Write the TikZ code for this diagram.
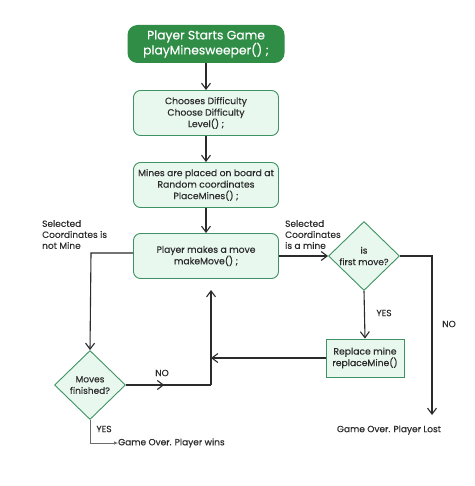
\documentclass[tikz,border=0pt]{standalone}
\usepackage{fontspec}
\setmainfont{Poppins}[FakeBold=0.25]
\usetikzlibrary{arrows.meta,shapes.geometric,decorations.markings}
\definecolor{gfgreen}{HTML}{2F8D46}
\definecolor{boxline}{HTML}{3E9263}
\definecolor{boxfill}{HTML}{E8F8EE}
\definecolor{ink}{HTML}{2B2B2B}

\begin{document}
\begin{tikzpicture}[x=1pt,y=-1pt,>={Straight Barb[length=6pt,width=9pt]},
    % Define the style for each kind of box
    start/.style={rectangle, rounded corners=10pt, fill=gfgreen, text=white, minimum width=157pt, minimum height=38pt, inner sep=2pt, font=\fontsize{12.3}{15}\selectfont, align=center},
    process/.style={rectangle, rounded corners=7pt, draw=boxline, fill=boxfill, line width=0.9pt, text=ink, minimum width=145pt, minimum height=45pt, inner sep=2pt, font=\fontsize{9.2}{11.5}\selectfont, align=center},
    plainbox/.style={process, rounded corners=0pt, minimum width=78pt, minimum height=38pt},
    decision/.style={diamond, draw=boxline, fill=boxfill, line width=0.9pt, text=ink, minimum width=71pt, minimum height=69pt, inner sep=0pt, font=\fontsize{9}{11.5}\selectfont, align=center},
    note/.style={text=ink, font=\fontsize{9}{11}\selectfont, align=left, inner sep=0pt},
    % Define the style for the connecting lines
    line/.style={draw=ink, line width=1.1pt},
    connection/.style={line, ->},
    midarrow/.style={line, postaction={decorate}, decoration={markings, mark=at position #1 with {\arrow{>}}}}
]

% Background and page size
\fill[white] (0,0) rectangle (474,486);
\useasboundingbox (0,0) rectangle (474,486);

% Main column
\node[start] (start) at (206,44) {Player Starts Game\\playMinesweeper() ;};
\node[process] (level) at (206,113) {Chooses Difficulty\\Choose Difficulty\\Level() ;};
\node[process] (mines) at (206,185) {Mines are placed on board at\\Random coordinates\\PlaceMines() ;};
\node[process] (move) at (206,256) {Player makes a move\\makeMove() ;};

% Decisions and the replace box
\node[decision] (first) at (364,256) {is\\first move?};
\node[decision] (finished) at (90,385) {Moves\\finished?};
\node[plainbox] (replace) at (365,358) {Replace mine\\replaceMine()};

% Free ends of connectors
\coordinate (join) at (211,385);
\coordinate (jointop) at (211,290);
\coordinate (notmine) at (91,253);
\coordinate (lostcorner) at (432,256);
\coordinate (lostend) at (432,415);
\coordinate (winscorner) at (90,443);

% Labels
\node[note, anchor=north west] (notminetext) at (42,220) {Selected\\Coordinates is\\not Mine};
\node[note, anchor=north west] (minetext) at (285,220) {Selected\\Coordinates\\is a mine};
\node[note] (yesfirst) at (384,313) {YES};
\node[note] (nofirst) at (449,324) {NO};
\node[note] (nofinished) at (162,373) {NO};
\node[note] (yesfinished) at (104,429) {YES};
\node[note, anchor=west] (wins) at (118,443) {Game Over. Player wins};
\node[note] (lost) at (389,430) {Game Over. Player Lost};

% Connect the main column
\draw[connection] (start) -- (level);
\draw[connection] (level) -- (mines);
\draw[connection] (mines) -- (move);

% Branches out of the move box
\draw[connection] (move.west |- notmine) -- (notmine) -- (finished.north);
\draw[connection] (move.east) -- (first.west);
\draw[connection] (first.south) -- (replace.north);
\draw[connection] (first.east) -- (lostcorner) -- (lostend);

% Back to the move box
\draw[midarrow=0.45] (finished.east) -- (join);
\draw[connection] (join) -- (jointop);
\draw[connection] (replace.west) -- (replace.west -| join);

% Player wins
\draw[draw=ink!70, line width=0.6pt, -{Latex[length=4pt,width=3.5pt]}] (finished.south) -- (winscorner) -- (wins.west);

\end{tikzpicture}
\end{document}
